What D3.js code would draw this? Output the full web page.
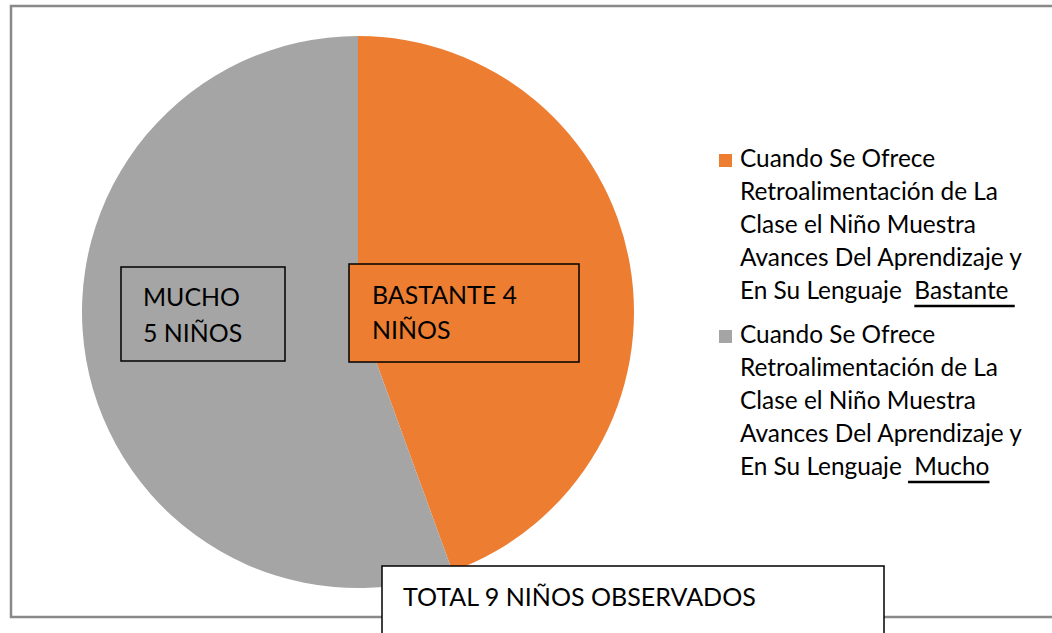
<!DOCTYPE html>
<html>
<head>
<meta charset="utf-8">
<script src="https://cdnjs.cloudflare.com/ajax/libs/d3/7.8.5/d3.min.js"></script>
<style>
  html, body { margin: 0; padding: 0; background: #fff; }
  svg { display: block; }
  text { font-family: Lato, "Open Sans", sans-serif; fill: #000; white-space: pre; }
</style>
</head>
<body>
<svg id="chart" width="1052" height="633"></svg>
<script>
// data
var categories = ["Bastante", "Mucho"];
var values = [4, 5];
var colors = ["#ED7D31", "#A5A5A5"];
var sliceLabels = [["BASTANTE 4", "NIÑOS"], ["MUCHO", "5 NIÑOS"]];
var legendLines = [
	["Cuando Se Ofrece", "Retroalimentación de La", "Clase el Niño Muestra", "Avances Del Aprendizaje y", "En Su Lenguaje  "],
	["Cuando Se Ofrece", "Retroalimentación de La", "Clase el Niño Muestra", "Avances Del Aprendizaje y", "En Su Lenguaje "]
];
var legendUnderlined = ["Bastante ", " Mucho"];
var totalLabel = "TOTAL 9 NIÑOS OBSERVADOS";

var svg = d3.select("#chart");
var cx = 358, cy = 312, radius = 276;

//measure a string at 100px and scale to the width it has in the picture
var probe = svg.append("text").attr("font-size", 100).attr("x", -2000).attr("y", -2000);
var fitSize = function(str, target){
	probe.text(str);
	return 100 * target / probe.node().getComputedTextLength();
};
var legendSize = fitSize("Avances Del Aprendizaje y", 282);
var labelSize = fitSize("BASTANTE 4", 145);
var totalSize = fitSize(totalLabel, 353);
probe.remove();

//outer frame
svg.append("rect")
	.attr("x", 11)
	.attr("y", 6)
	.attr("width", 1100)
	.attr("height", 611)
	.attr("fill", "none")
	.attr("stroke", "#898989")
	.attr("stroke-width", 2.5);

//pie
var pie = d3.pie().sort(null).value(function(d){ return d; });
var arc = d3.arc().innerRadius(0).outerRadius(radius);
var g = svg.append("g").attr("transform", "translate(" + cx + "," + cy + ")");
g.selectAll("path")
	.data(pie(values))
	.enter().append("path")
	.attr("d", arc)
	.attr("fill", function(d, i){ return colors[i]; });

//boxed labels on the slices
var labelBoxes = [
	{x: -9, y: -48, w: 230, h: 98, tx: 23, ty: [-8, 27]},
	{x: -237, y: -45, w: 164, h: 94, tx: 22, ty: [-6, 30]}
];
labelBoxes.forEach(function(b, i){
	g.append("rect")
		.attr("x", b.x)
		.attr("y", b.y)
		.attr("width", b.w)
		.attr("height", b.h)
		.attr("fill", colors[i])
		.attr("stroke", "#000")
		.attr("stroke-width", 1.5);
	g.selectAll(".lab" + i)
		.data(sliceLabels[i])
		.enter().append("text")
		.attr("class", "lab" + i)
		.attr("x", b.x + b.tx)
		.attr("y", function(d, j){ return b.ty[j]; })
		.attr("font-size", labelSize)
		.text(function(d){ return d; });
});

//total box, runs under the bottom of the frame
svg.append("rect")
	.attr("x", 382)
	.attr("y", 566)
	.attr("width", 502)
	.attr("height", 100)
	.attr("fill", "#fff")
	.attr("stroke", "#000")
	.attr("stroke-width", 1.5);
svg.append("text")
	.attr("x", 403)
	.attr("y", 606)
	.attr("font-size", totalSize)
	.text(totalLabel);

//legend
var legendX = 740, lineH = 33;
var legendTop = [167, 343];
categories.forEach(function(c, i){
	var lg = svg.append("g").attr("class", "legend");
	lg.append("rect")
		.attr("x", 719)
		.attr("y", legendTop[i] - 13)
		.attr("width", 13)
		.attr("height", 13)
		.attr("fill", colors[i]);
	var lines = lg.selectAll("text")
		.data(legendLines[i])
		.enter().append("text")
		.attr("x", legendX)
		.attr("y", function(d, j){ return legendTop[i] + j * lineH; })
		.attr("font-size", legendSize)
		.text(function(d){ return d; });
	var last = lines.nodes()[legendLines[i].length - 1];
	var ux = legendX + last.getComputedTextLength();
	var uy = legendTop[i] + (legendLines[i].length - 1) * lineH;
	var word = lg.append("text")
		.attr("x", ux)
		.attr("y", uy)
		.attr("font-size", legendSize)
		.text(legendUnderlined[i]);
	lg.append("line")
		.attr("x1", ux)
		.attr("x2", ux + word.node().getComputedTextLength())
		.attr("y1", uy + 7)
		.attr("y2", uy + 7)
		.attr("stroke", "#000")
		.attr("stroke-width", 2.5);
});
</script>
</body>
</html>
